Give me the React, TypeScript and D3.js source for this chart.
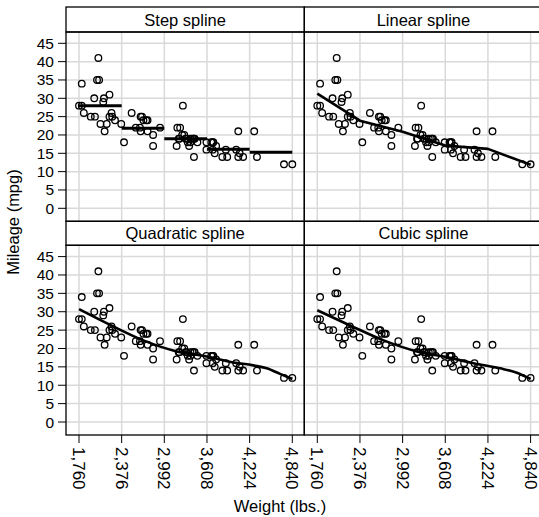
import React from 'react';
import * as d3 from 'd3';

// auto data: weight (lbs.) and mileage (mpg)
const weight = [
  2930, 3350, 2640, 3250, 4080, 3670, 2230, 3280, 3880, 3400, 4330, 3900, 4290, 2110,
  3690, 3180, 3220, 2750, 3430, 2120, 3600, 3600, 3740, 1800, 2650, 4840, 4720, 3830,
  2580, 4060, 3720, 3370, 4130, 2830, 4060, 3310, 3300, 3690, 3370, 2730, 4030, 3260,
  1800, 2200, 2520, 3330, 3700, 3470, 3210, 3200, 3420, 2690, 2830, 2070, 2650, 2370,
  2020, 2280, 2750, 2240, 1760, 1980, 3420, 1830, 2050, 2410, 2200, 2670, 2160, 2040,
  1930, 1990, 3170, 2130,
];
const mpg = [
  22, 17, 22, 20, 15, 18, 26, 20, 16, 19, 14, 14, 21, 29,
  16, 22, 22, 24, 19, 30, 18, 16, 17, 28, 21, 12, 12, 14,
  22, 14, 15, 18, 14, 20, 21, 19, 19, 18, 19, 24, 16, 28,
  34, 25, 26, 18, 18, 18, 19, 19, 19, 24, 17, 23, 25, 23,
  35, 24, 21, 25, 28, 30, 14, 26, 35, 18, 31, 25, 23, 41,
  25, 25, 17, 21,
];

const xTicks = [1760, 2376, 2992, 3608, 4224, 4840];
const yTicks = [0, 5, 10, 15, 20, 25, 30, 35, 40, 45];

// fitted values
const knots = [1760, 2376, 2992, 3608, 4224, 4840];
const stepFit = [27.95, 21.8, 19.0, 16.1, 15.3];
const linearFit = [31.3, 23.9, 20.9, 17.1, 16.2, 11.9];
const quadX = [1760, 2255, 2689, 3171, 3604, 3989, 4278, 4470, 4663, 4840];
const quadFit = [30.7, 26.0, 22.2, 19.2, 17.8, 16.2, 15.4, 14.6, 13.1, 11.7];
const cubicX = [1760, 2241, 2718, 3199, 3583, 4016, 4400, 4641, 4840];
const cubicFit = [30.4, 26.2, 22.2, 19.2, 17.8, 16.0, 14.6, 13.4, 11.7];

const titles = ['Step spline', 'Linear spline', 'Quadratic spline', 'Cubic spline'];

const font = '"Liberation Sans", Arial, Helvetica, sans-serif';
const colX = [66, 304.3];
const colW = 238.3;
const rows = [
  { stripTop: 7, plotTop: 32, plotBottom: 221.3 },
  { stripTop: 221.3, plotTop: 245.3, plotBottom: 435 },
];
const grid = '#d9d9d9';

function Panel({ idx }: { idx: number }) {
  const col = idx % 2;
  const row = Math.floor(idx / 2);
  const x0 = colX[col];
  const r = rows[row];
  const x = d3.scaleLinear().domain([1760, 4840]).range([x0 + 13, x0 + 226.3]);
  const y = d3.scaleLinear().domain([0, 45]).range([r.plotBottom - 13, r.plotTop + 11.3]);

  let fit: React.ReactNode = null;
  if (idx === 0) {
    fit = stepFit.map((v, i) => (
      <line key={i} x1={x(knots[i])} x2={x(knots[i + 1])} y1={y(v)} y2={y(v)}
        stroke="#000" strokeWidth={3} />
    ));
  } else {
    const xs = idx === 1 ? knots : idx === 2 ? quadX : cubicX;
    const ys = idx === 1 ? linearFit : idx === 2 ? quadFit : cubicFit;
    const line = d3.line<number>()
      .x((_, i) => x(xs[i]))
      .y((d) => y(d))
      .curve(idx === 1 ? d3.curveLinear : d3.curveMonotoneX);
    fit = <path d={line(ys) || ''} fill="none" stroke="#000" strokeWidth={2.6} strokeLinejoin="round" />;
  }

  return (
    <g>
      {yTicks.map((t) => (
        <line key={'gy' + t} x1={x0} x2={x0 + colW} y1={y(t)} y2={y(t)} stroke={grid} strokeWidth={1.5} />
      ))}
      {xTicks.map((t) => (
        <line key={'gx' + t} x1={x(t)} x2={x(t)} y1={r.plotTop} y2={r.plotBottom} stroke={grid} strokeWidth={1.5} />
      ))}
      {weight.map((w, i) => (
        <circle key={i} cx={x(w)} cy={y(mpg[i])} r={3.3} fill="none" stroke="#000" strokeWidth={1.3} />
      ))}
      {fit}
      <rect x={x0} y={r.stripTop} width={colW} height={r.plotTop - r.stripTop} fill="none" stroke="#000" strokeWidth={1.3} />
      <rect x={x0} y={r.plotTop} width={colW} height={r.plotBottom - r.plotTop} fill="none" stroke="#000" strokeWidth={1.3} />
      <text x={x0 + colW / 2} y={(r.stripTop + r.plotTop) / 2 + 6} textAnchor="middle" fontSize={16.5} fontFamily={font}>
        {titles[idx]}
      </text>
      {col === 0 && yTicks.map((t) => (
        <g key={'ty' + t}>
          <line x1={x0 - 8} x2={x0} y1={y(t)} y2={y(t)} stroke="#000" strokeWidth={1} />
          <text x={x0 - 12} y={y(t) + 5.5} textAnchor="end" fontSize={15.5} fontFamily={font}>{t}</text>
        </g>
      ))}
      {row === 1 && xTicks.map((t) => (
        <g key={'tx' + t}>
          <line x1={x(t)} x2={x(t)} y1={r.plotBottom} y2={r.plotBottom + 8} stroke="#000" strokeWidth={1} />
          <text transform={`translate(${x(t) - 6},${r.plotBottom + 12}) rotate(90)`} fontSize={17} fontFamily={font}>
            {d3.format(',')(t)}
          </text>
        </g>
      ))}
    </g>
  );
}

export default function App() {
  return (
    <svg width={539} height={517} style={{ position: 'absolute', left: 0, top: 0, background: '#fff' }}>
      <rect width={539} height={517} fill="#fff" />
      {[0, 1, 2, 3].map((i) => <Panel key={i} idx={i} />)}
      <text x={280} y={512} textAnchor="middle" fontSize={16.5} fontFamily={font}>Weight (lbs.)</text>
      <text transform="translate(19,222) rotate(-90)" textAnchor="middle" fontSize={16.5} fontFamily={font}>Mileage (mpg)</text>
    </svg>
  );
}
